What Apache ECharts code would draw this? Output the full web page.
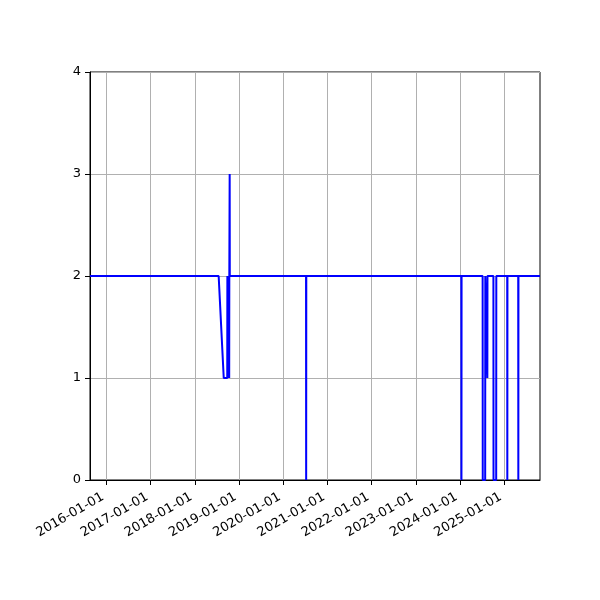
<!DOCTYPE html>
<html>
<head>
<meta charset="utf-8">
<script src="https://cdn.jsdelivr.net/npm/echarts@6/dist/echarts.min.js"></script>
<style>html,body{margin:0;padding:0;background:#fff;}#c{width:600px;height:600px;}</style>
</head>
<body>
<div id="c"></div>
<script>
var dates = ['2015-08-19','2018-07-17','2018-08-28','2018-09-26','2018-09-27','2018-10-04','2018-10-05','2018-10-12','2018-10-13','2018-10-15','2018-10-16','2018-10-17',
  '2020-07-08','2020-07-09','2020-07-10',
  '2024-01-12','2024-01-13','2024-01-14',
  '2024-07-06','2024-07-07','2024-07-27','2024-07-28',
  '2024-08-13','2024-08-14','2024-08-15',
  '2024-10-03','2024-10-04','2024-10-26','2024-10-27',
  '2025-01-25','2025-01-26','2025-01-27',
  '2025-04-26','2025-04-27','2025-04-28',
  '2025-10-23'];
var values = [2,2,1,1,2,1,2,1,2,2,3,2,
  2,0,2,
  2,0,2,
  2,0,0,2,
  2,1,2,
  2,0,0,2,
  2,0,2,
  2,0,2,
  2];
var tickYears = [2016,2017,2018,2019,2020,2021,2022,2023,2024,2025];
var xMin = '2015-08-19', xMax = '2025-10-23';
var yTicks = [0,1,2,3,4];

function parseUTC(s){var p=s.split('-');return Date.UTC(+p[0],+p[1]-1,+p[2]);}
var tickValues = tickYears.map(function(y){return Date.UTC(y,0,1);});
var seriesData = dates.map(function(d,i){return [parseUTC(d), values[i]];});
function pad(n){return (n<10?'0':'')+n;}

var chart = echarts.init(document.getElementById('c'));
chart.setOption({
  animation:false,
  grid:{left:90,right:60,top:72,bottom:120,show:true,borderColor:'#000',borderWidth:1,backgroundColor:'transparent'},
  xAxis:{
    type:'value', min:parseUTC(xMin), max:parseUTC(xMax),
    axisLine:{show:true,lineStyle:{color:'#000',width:1}},
    axisTick:{show:true,length:5,lineStyle:{color:'#000'},customValues:tickValues},
    axisLabel:{rotate:30,margin:14,padding:[0,4,0,0],color:'#000',fontSize:13,fontFamily:'DejaVu Sans',customValues:tickValues,
      formatter:function(v){var d=new Date(v);return d.getUTCFullYear()+'-'+pad(d.getUTCMonth()+1)+'-'+pad(d.getUTCDate());}},
    splitLine:{show:true,lineStyle:{color:'#b0b0b0',width:1}}
  },
  yAxis:{
    type:'value', min:yTicks[0], max:yTicks[yTicks.length-1], interval:1,
    axisLine:{show:true,lineStyle:{color:'#000',width:1}},
    axisTick:{show:true,length:5,lineStyle:{color:'#000'}},
    axisLabel:{margin:9,color:'#000',fontSize:13,fontFamily:'DejaVu Sans'},
    splitLine:{show:true,lineStyle:{color:'#b0b0b0',width:1}}
  },
  series:[{
    type:'line', data:seriesData, showSymbol:false, symbol:'none',
    lineStyle:{color:'#0000ff',width:2}, clip:true, z:5
  }]
});
</script>
</body>
</html>
